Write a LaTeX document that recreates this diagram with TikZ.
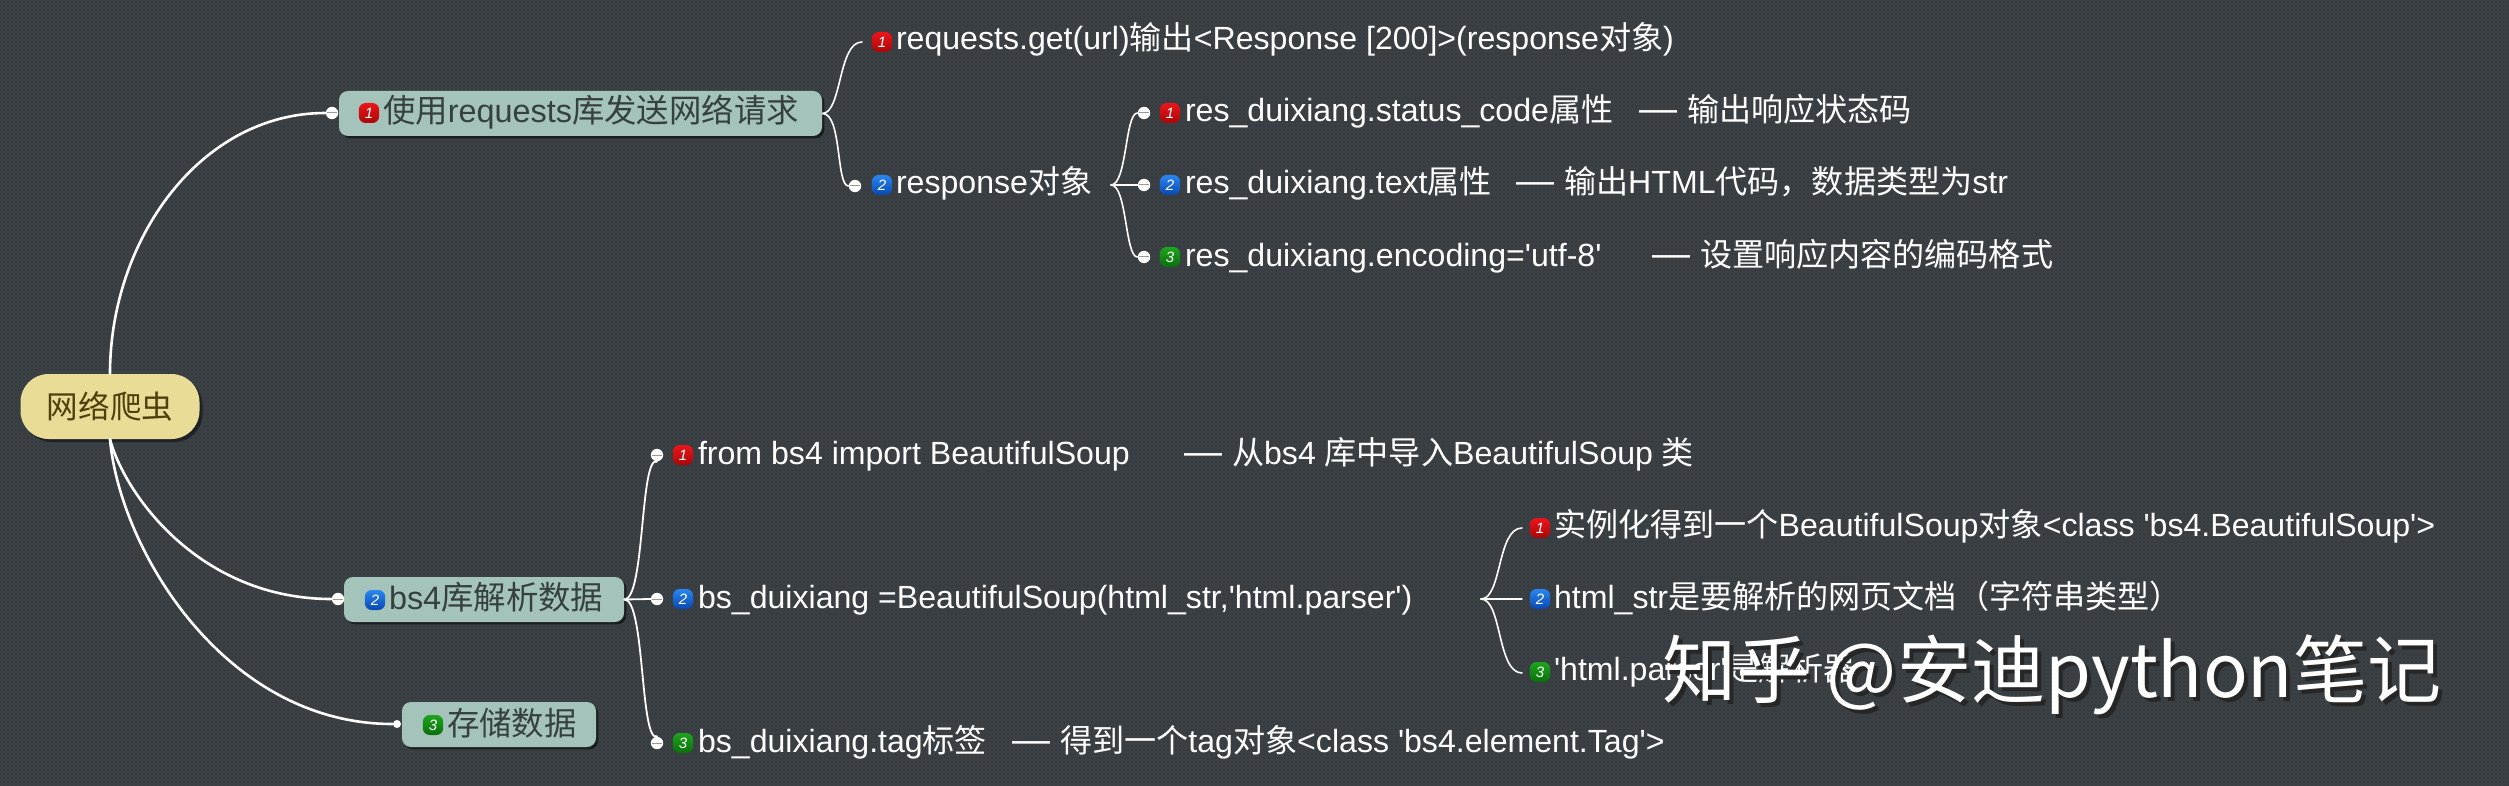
\documentclass[tikz,border=0pt]{standalone}
\usepackage{fontspec}
\usetikzlibrary{shadows,calc,patterns.meta}
\setmainfont{Liberation Sans}
\newfontfamily\cjk{Noto Sans CJK SC}
\newcommand\zh[1]{{\cjk #1}}
\newcommand\sq{\textquotesingle}
\newcommand\dashmark{{\fontsize{19}{19}\selectfont —}\hspace{5pt}}
\definecolor{bgc}{HTML}{3A4044}
\definecolor{bgd}{HTML}{32373A}
\definecolor{rootc}{HTML}{E8DC96}
\definecolor{boxc}{HTML}{A4C3BB}
\definecolor{roott}{HTML}{4F3F0C}
\definecolor{boxt}{HTML}{36403F}
\definecolor{redt}{HTML}{EC151B}
\definecolor{redb}{HTML}{A80808}
\definecolor{blut}{HTML}{2A86F0}
\definecolor{blub}{HTML}{0A48B0}
\definecolor{grnt}{HTML}{1EA51E}
\definecolor{grnb}{HTML}{0A6E0A}
\tikzset{
 x=0.5pt,y=-0.5pt,
 txt/.style={text=white,font=\fontsize{16.05}{17}\selectfont,anchor=base west,inner sep=0pt,outer sep=0pt},
 btxt/.style={txt,text=boxt,font=\fontsize{16.2}{17}\selectfont},
 rootnode/.style={fill=rootc,rounded corners=14pt,minimum width=89.5pt,minimum height=32.5pt,inner sep=0pt,text=roott,font=\fontsize{15.8}{17}\selectfont,drop shadow={shadow xshift=1.5pt,shadow yshift=-1.5pt,opacity=.45,fill=black}},
 topic/.style={fill=boxc,rounded corners=4.5pt,inner sep=0pt,minimum height=22.5pt,drop shadow={shadow xshift=1.2pt,shadow yshift=-1.2pt,opacity=.5,fill=black}},
 icon/.style={rounded corners=3.4pt,minimum width=10.2pt,minimum height=10pt,inner sep=0pt,text=white,font=\fontsize{7.5}{8}\selectfont\itshape},
 ired/.style={icon,top color=redt,bottom color=redb},
 iblue/.style={icon,top color=blut,bottom color=blub},
 igreen/.style={icon,top color=grnt,bottom color=grnb},
 minus/.style={circle,fill=white,inner sep=0pt,minimum size=6.2pt,path picture={\draw[gray!80,line width=.5pt] ($(path picture bounding box.west)+(1,0)$) -- ($(path picture bounding box.east)+(-1,0)$);}},
 dotend/.style={circle,fill=white,inner sep=0pt,minimum size=4pt},
 mainedge/.style={draw=white,line width=1.3pt,line cap=round},
 subedge/.style={draw=white,line width=.8pt,line cap=round},
}
\begin{document}
\begin{tikzpicture}
\fill[bgc] (0,0) rectangle (2509,786);
\fill[pattern={Dots[distance=2pt,radius=.42pt]},pattern color=bgd] (0,0) rectangle (2509,786);
\useasboundingbox (0,0) rectangle (2509,786);
% boxes
\node[rootnode] (root) at (110,406.5) {\zh{网络爬虫}};
\node[topic,minimum width=241.5pt] (t1) at (580.5,113.5) {};
\node[topic,minimum width=140pt] (t2) at (484,599.5) {};
\node[topic,minimum width=97pt] (t3) at (499,724.5) {};
\node[ired] (t1i) at (369,113) {1};
\node[iblue] (t2i) at (375,600) {2};
\node[igreen] (t3i) at (433,725) {3};
\node[btxt] (t1t) at (383,123) {\zh{使用}requests\zh{库发送网络请求}};
\node[btxt] (t2t) at (389,609) {bs4\zh{库解析数据}};
\node[btxt] (t3t) at (447,735) {\zh{存储数据}};
% collapse marks
\node[minus] (m1) at (332,113) {};
\node[minus] (m2) at (338,599) {};
\node[dotend] (m3) at (397,724) {};
\node[minus] (m4) at (855,186) {};
\node[minus] (m5) at (1144,113) {};
\node[minus] (m6) at (1144,185) {};
\node[minus] (m7) at (1144,257) {};
\node[minus] (m8) at (657,455) {};
\node[minus] (m9) at (657,599) {};
\node[minus] (m10) at (657,743) {};
\coordinate (e1) at (862,42);
\coordinate (f1) at (1111,185);
\coordinate (f2) at (1481,599);
\coordinate (e2) at (1522,528);
\coordinate (e3) at (1522,599);
\coordinate (e4) at (1522,673);
% connectors
\draw[mainedge] (root.north) .. controls (110,240) and (200,113) .. (m1.west);
\draw[mainedge] (root.south) .. controls (125,495) and (200,599) .. (m2.west);
\draw[mainedge] (root.south) .. controls (120,550) and (225,724) .. (m3.west);
\draw[subedge] (t1.east) .. controls (842,113) and (838,42) .. (e1);
\draw[subedge] (t1.east) .. controls (842,113) and (836,186) .. (m4.west);
\draw[subedge] (f1) .. controls (1127,185) and (1125,113) .. (m5.west);
\draw[subedge] (f1) -- (m6.west);
\draw[subedge] (f1) .. controls (1127,185) and (1125,257) .. (m7.west);
\draw[mainedge,line width=.9pt] (t2.east) .. controls (645,599) and (640,455) .. (m8.south);
\draw[mainedge,line width=.9pt] (t2.east) -- (m9.west);
\draw[mainedge,line width=.9pt] (t2.east) .. controls (645,599) and (640,743) .. (m10.north);
\draw[subedge] (f2) .. controls (1502,599) and (1497,528) .. (e2);
\draw[subedge] (f2) -- (e3);
\draw[subedge] (f2) .. controls (1502,599) and (1497,673) .. (e4);
% items upper
\node[ired] (a1i) at (882,42) {1};
\node[txt] (a1) at (896,50) {requests.get(url)\zh{输出}<Response [200]>(response\zh{对象})};
\node[iblue] (a2i) at (882,185) {2};
\node[txt] (a2) at (896,194) {response\zh{对象}};
\node[ired] (b1i) at (1170,113) {1};
\node[txt] (b1) at (1185,122) {res\_duixiang.status\_code\zh{属性}};
\node[txt] (b1n) at (1639,122) {\dashmark\zh{输出响应状态码}};
\node[iblue] (b2i) at (1170,185) {2};
\node[txt] (b2) at (1185,194) {res\_duixiang.text\zh{属性}};
\node[txt] (b2n) at (1516,194) {\dashmark\zh{输出}HTML\zh{代码，数据类型为}str};
\node[igreen] (b3i) at (1170,257) {3};
\node[txt] (b3) at (1185,266) {res\_duixiang.encoding=\sq utf-8\sq};
\node[txt] (b3n) at (1652,266) {\dashmark\zh{设置响应内容的编码格式}};
% items lower
\node[ired] (c1i) at (683,455) {1};
\node[txt] (c1) at (698,464) {from bs4 import BeautifulSoup};
\node[txt] (c1n) at (1184,464) {\dashmark\zh{从}bs4 \zh{库中导入}BeautifulSoup \zh{类}};
\node[iblue] (c2i) at (683,599) {2};
\node[txt] (c2) at (698,608) {bs\_duixiang =BeautifulSoup(html\_str,\sq html.parser\sq)};
\node[igreen] (c3i) at (683,743) {3};
\node[txt] (c3) at (698,752) {bs\_duixiang.tag\zh{标签}};
\node[txt] (c3n) at (1012,752) {\dashmark\zh{得到一个}tag\zh{对象}<class \sq bs4.element.Tag\sq>};
\node[ired] (d1i) at (1540,528) {1};
\node[txt] (d1) at (1554,536) {\zh{实例化得到一个}BeautifulSoup\zh{对象}<class \sq bs4.BeautifulSoup\sq>};
\node[iblue] (d2i) at (1540,599) {2};
\node[txt] (d2) at (1554,608) {html\_str\zh{是要解析的网页文档（字符串类型）}};
\node[igreen] (d3i) at (1540,672) {3};
\node[txt] (d3) at (1554,680) {\sq html.parser\sq\zh{是解析器}};
% watermark
\node[txt,text=black!85,font=\fontsize{37.1}{41}\selectfont] (ws) at (1666,701) {\zh{知乎 @安迪python笔记}};
\node[txt,font=\fontsize{37.1}{41}\selectfont] (w) at (1662,697) {\zh{知乎 @安迪python笔记}};
\end{tikzpicture}
\end{document}
